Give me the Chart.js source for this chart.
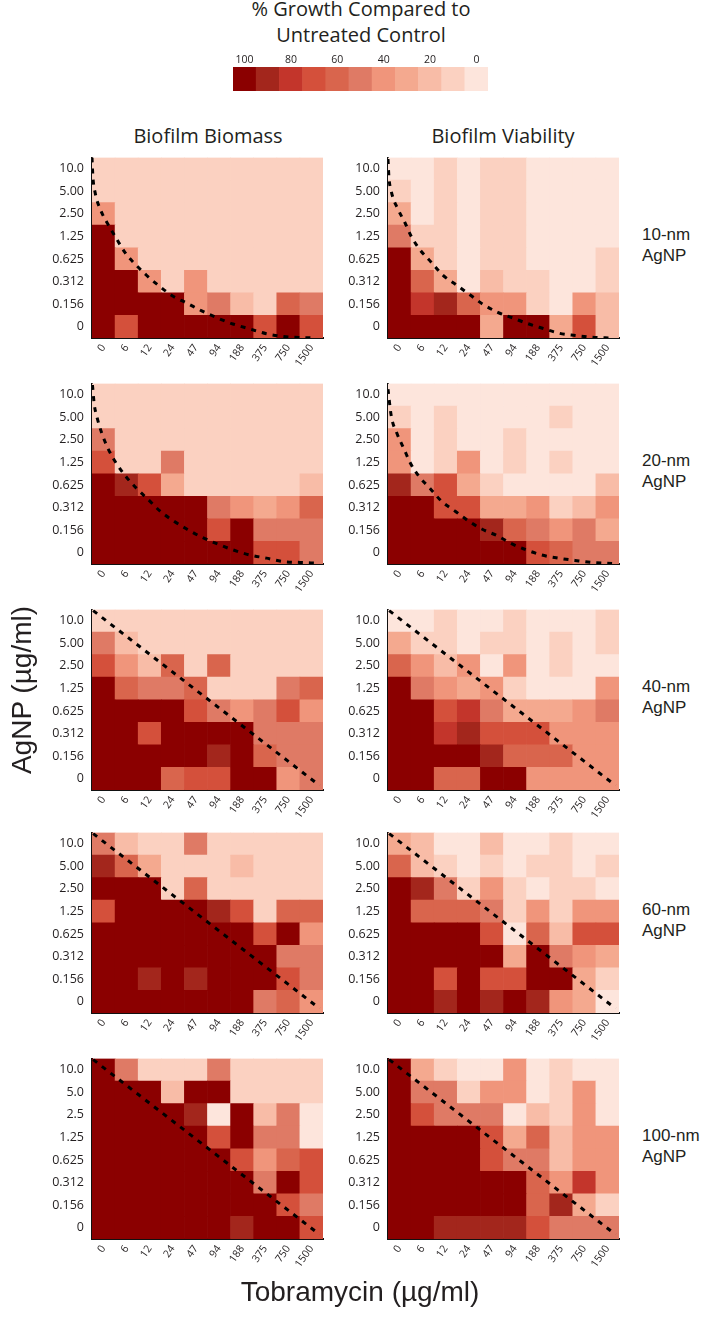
<!DOCTYPE html>
<html>
<head>
<meta charset="utf-8">
<title>AgNP + Tobramycin checkerboards</title>
<script src="https://cdn.jsdelivr.net/npm/chart.js@4.4.1/dist/chart.umd.min.js"></script>
<style>
    body {
        margin: 0;
        width: 716px;
        height: 1319px;
        position: relative;
        overflow: hidden;
        background: #fff;
        color: #231f20;
        font-family: 'Open Sans', sans-serif;
    }
    canvas { position: absolute; }
    .txt { position: absolute; white-space: nowrap; }
    .title { left: 0; width: 722px; top: -4px; text-align: center; font-size: 20px; line-height: 26px; }
    .head { font-size: 20px; transform: translateX(-50%); top: 122px; }
    .row-label { left: 642px; font-family: 'Liberation Sans', sans-serif; font-size: 17px; line-height: 21px; transform: translateY(-50%); }
    .axis-title { font-family: 'Liberation Sans', sans-serif; font-size: 28px; }
</style>
</head>
<body>

<div class="txt title">% Growth Compared to<br>Untreated Control</div>
<canvas id="key" width="255" height="43" style="left:233px; top:48px;"></canvas>

<div class="txt head" style="left:208px;">Biofilm Biomass</div>
<div class="txt head" style="left:503px;">Biofilm Viability</div>

<canvas id="b10" width="300" height="241" style="left:40px; top:142px;"></canvas>
<canvas id="v10" width="300" height="241" style="left:336px; top:142px;"></canvas>
<canvas id="b20" width="300" height="241" style="left:40px; top:368px;"></canvas>
<canvas id="v20" width="300" height="241" style="left:336px; top:368px;"></canvas>
<canvas id="b40" width="300" height="241" style="left:40px; top:594px;"></canvas>
<canvas id="v40" width="300" height="241" style="left:336px; top:594px;"></canvas>
<canvas id="b60" width="300" height="241" style="left:40px; top:817px;"></canvas>
<canvas id="v60" width="300" height="241" style="left:336px; top:817px;"></canvas>
<canvas id="b100" width="300" height="241" style="left:40px; top:1043px;"></canvas>
<canvas id="v100" width="300" height="241" style="left:336px; top:1043px;"></canvas>

<div class="txt row-label" style="top:245px;">10-nm<br>AgNP</div>
<div class="txt row-label" style="top:471px;">20-nm<br>AgNP</div>
<div class="txt row-label" style="top:697px;">40-nm<br>AgNP</div>
<div class="txt row-label" style="top:920px;">60-nm<br>AgNP</div>
<div class="txt row-label" style="top:1146px;">100-nm<br>AgNP</div>

<div class="txt axis-title" style="left:22px; top:690px; transform:translate(-50%,-50%) rotate(-90deg);">AgNP (µg/ml)</div>
<div class="txt axis-title" style="left:360px; top:1292px; transform:translate(-50%,-50%);">Tobramycin (µg/ml)</div>

<script>
// Colour key: % growth compared to untreated control, dark to light
const keyValues = [100, 90, 80, 70, 60, 50, 40, 30, 20, 10, 0];
const keyColors = ['#8b0000', '#a3261c', '#c3352b', '#d4503b', '#d9654d', '#df7a65',
                   '#f0957b', '#f4a98f', '#f8bca7', '#fbd1c1', '#fde5dc'];
const keyLabels = ['100', '', '80', '', '60', '', '40', '', '20', '', '0'];

// Tick labels
const tobraLabels = ['0', '6', '12', '24', '47', '94', '188', '375', '750', '1500'];
const agnpLabels = ['10.0', '5.00', '2.50', '1.25', '0.625', '0.312', '0.156', '0'];     // top to bottom
const agnpLabelsShort = ['10.0', '5.0', '2.5', '1.25', '0.625', '0.312', '0.156', '0'];

// % growth per cell, rows top (10.0) to bottom (0), columns tobramycin 0 .. 1500
const biomass10 = [
    [10, 10, 10, 10, 10, 10, 10, 10, 10, 10],
    [10, 10, 10, 10, 10, 10, 10, 10, 10, 10],
    [40, 10, 10, 10, 10, 10, 10, 10, 10, 10],
    [100, 10, 10, 10, 10, 10, 10, 10, 10, 10],
    [100, 40, 10, 10, 10, 10, 10, 10, 10, 10],
    [100, 100, 40, 10, 40, 10, 10, 10, 10, 10],
    [100, 100, 100, 100, 40, 50, 20, 10, 60, 50],
    [100, 70, 100, 100, 100, 100, 100, 70, 100, 70]
];
const viability10 = [
    [0, 0, 10, 0, 10, 10, 0, 0, 0, 0],
    [10, 0, 10, 0, 10, 10, 0, 0, 0, 0],
    [30, 0, 10, 0, 10, 10, 0, 0, 0, 0],
    [50, 10, 10, 0, 10, 10, 0, 0, 0, 0],
    [100, 30, 10, 0, 10, 10, 0, 0, 0, 10],
    [100, 60, 30, 0, 20, 10, 10, 0, 0, 10],
    [100, 80, 90, 60, 40, 40, 10, 0, 40, 20],
    [100, 100, 100, 100, 30, 100, 100, 30, 70, 20]
];
const biomass20 = [
    [10, 10, 10, 10, 10, 10, 10, 10, 10, 10],
    [10, 10, 10, 10, 10, 10, 10, 10, 10, 10],
    [50, 10, 10, 10, 10, 10, 10, 10, 10, 10],
    [70, 10, 10, 50, 10, 10, 10, 10, 10, 10],
    [100, 90, 70, 30, 10, 10, 10, 10, 10, 20],
    [100, 100, 100, 100, 100, 50, 40, 30, 40, 60],
    [100, 100, 100, 100, 100, 70, 100, 50, 50, 50],
    [100, 100, 100, 100, 100, 100, 100, 70, 70, 50]
];
const viability20 = [
    [0, 0, 0, 0, 0, 0, 0, 0, 0, 0],
    [10, 0, 10, 0, 0, 0, 0, 10, 0, 0],
    [40, 0, 10, 0, 0, 10, 0, 0, 0, 0],
    [40, 0, 10, 40, 0, 10, 0, 10, 0, 0],
    [90, 50, 70, 30, 10, 0, 0, 0, 0, 20],
    [100, 100, 70, 70, 30, 30, 40, 10, 20, 40],
    [100, 100, 100, 100, 90, 60, 50, 40, 50, 30],
    [100, 100, 100, 100, 100, 100, 70, 60, 50, 50]
];
const biomass40 = [
    [10, 10, 10, 10, 10, 10, 10, 10, 10, 10],
    [50, 20, 10, 10, 10, 10, 10, 10, 10, 10],
    [70, 40, 20, 60, 10, 60, 10, 10, 10, 10],
    [100, 60, 50, 50, 60, 10, 10, 10, 50, 60],
    [100, 100, 100, 100, 70, 50, 40, 50, 70, 40],
    [100, 100, 70, 100, 100, 100, 100, 50, 50, 50],
    [100, 100, 100, 100, 100, 90, 100, 60, 50, 50],
    [100, 100, 100, 60, 70, 70, 100, 100, 40, 50]
];
const viability40 = [
    [0, 0, 10, 0, 0, 10, 0, 0, 0, 10],
    [30, 10, 10, 0, 10, 10, 0, 10, 0, 10],
    [60, 40, 20, 40, 0, 40, 0, 10, 0, 0],
    [100, 50, 40, 30, 40, 10, 0, 0, 0, 40],
    [100, 100, 70, 80, 50, 30, 30, 30, 40, 50],
    [100, 100, 80, 90, 70, 70, 70, 40, 40, 40],
    [100, 100, 100, 100, 90, 60, 60, 60, 40, 40],
    [100, 100, 60, 60, 100, 100, 40, 40, 40, 40]
];
const biomass60 = [
    [50, 20, 10, 10, 50, 10, 10, 10, 10, 10],
    [90, 60, 30, 10, 10, 10, 20, 10, 10, 10],
    [100, 100, 100, 10, 60, 10, 10, 10, 10, 10],
    [70, 100, 100, 100, 100, 90, 70, 10, 60, 60],
    [100, 100, 100, 100, 100, 100, 100, 70, 100, 40],
    [100, 100, 100, 100, 100, 100, 100, 100, 50, 50],
    [100, 100, 90, 100, 90, 100, 100, 100, 70, 50],
    [100, 100, 100, 100, 100, 100, 100, 50, 60, 40]
];
const viability60 = [
    [30, 20, 0, 0, 20, 0, 0, 10, 0, 0],
    [60, 20, 10, 0, 10, 0, 10, 10, 0, 10],
    [100, 90, 50, 10, 40, 10, 0, 10, 10, 0],
    [100, 60, 60, 60, 50, 10, 40, 10, 40, 40],
    [100, 100, 100, 100, 70, 0, 60, 20, 70, 70],
    [100, 100, 100, 100, 100, 30, 100, 50, 40, 30],
    [100, 100, 70, 100, 70, 70, 100, 100, 30, 10],
    [100, 100, 90, 100, 90, 100, 90, 40, 30, 0]
];
const biomass100 = [
    [100, 50, 10, 10, 10, 50, 10, 10, 10, 10],
    [100, 100, 100, 20, 100, 100, 10, 10, 10, 10],
    [100, 100, 100, 100, 90, 0, 100, 20, 50, 0],
    [100, 100, 100, 100, 100, 70, 100, 50, 50, 0],
    [100, 100, 100, 100, 100, 100, 70, 40, 60, 70],
    [100, 100, 100, 100, 100, 100, 100, 50, 100, 70],
    [100, 100, 100, 100, 100, 100, 100, 100, 70, 50],
    [100, 100, 100, 100, 100, 100, 90, 100, 100, 70]
];
const viability100 = [
    [100, 30, 10, 0, 0, 40, 0, 10, 0, 0],
    [100, 50, 50, 10, 40, 40, 0, 10, 40, 0],
    [100, 70, 50, 50, 50, 0, 20, 10, 40, 0],
    [100, 100, 100, 100, 70, 30, 60, 20, 40, 40],
    [100, 100, 100, 100, 70, 50, 50, 20, 40, 40],
    [100, 100, 100, 100, 100, 100, 60, 40, 80, 40],
    [100, 100, 100, 100, 100, 100, 60, 90, 30, 10],
    [100, 100, 90, 90, 90, 90, 70, 50, 50, 50]
];

// Dashed reference lines, in cell units (x: column 0..10, y: row 0..8 from bottom)
const curve10bX = [0, 0.04, 0.14, 0.36, 0.72, 1.01, 1.44, 1.87, 2.37, 2.95, 3.53, 4.1, 4.75, 5.4, 6.1, 6.83, 7.55, 8.27, 9.0, 9.7];
const curve10bY = [8, 7.14, 6.42, 5.7, 4.99, 4.49, 3.77, 3.27, 2.77, 2.27, 1.84, 1.55, 1.2, 0.9, 0.62, 0.4, 0.19, 0.07, 0.02, 0];
const curve10vX = [0, 0.04, 0.14, 0.43, 0.72, 1.01, 1.37, 1.87, 2.37, 2.95, 3.53, 4.1, 4.75, 5.4, 6.04, 6.69, 7.41, 8.13, 8.85, 9.7];
const curve10vY = [7.93, 7.14, 6.5, 5.71, 5.14, 4.5, 3.93, 3.36, 2.79, 2.36, 1.93, 1.5, 1.14, 0.89, 0.64, 0.43, 0.21, 0.11, 0.03, 0];
const curve20bX = [0.02, 0.1, 0.22, 0.43, 0.72, 1.08, 1.44, 1.94, 2.45, 2.95, 3.53, 4.1, 4.75, 5.4, 6.12, 6.83, 7.55, 8.27, 9.0, 9.71];
const curve20bY = [7.93, 7.06, 6.49, 5.78, 5.06, 4.42, 3.91, 3.34, 2.84, 2.34, 1.91, 1.55, 1.19, 0.9, 0.62, 0.4, 0.26, 0.11, 0.07, 0.04];
const curve20vX = [0, 0.14, 0.39, 0.68, 0.96, 1.32, 1.83, 2.33, 2.91, 3.48, 4.06, 4.71, 5.35, 6.0, 6.65, 7.37, 8.09, 8.81, 9.7];
const curve20vY = [7.75, 6.57, 5.78, 5.13, 4.49, 3.91, 3.34, 2.77, 2.34, 1.91, 1.55, 1.26, 0.9, 0.62, 0.4, 0.26, 0.16, 0.07, 0.02];
const diagonalX = [0.05, 9.85];
const diagonalY = [7.95, 0.2];

const textColor = '#231f20';
const axisColor = '#111';

function colorFor(value) {
    const idx = keyValues.indexOf(value);
    return keyColors[idx >= 0 ? idx : keyColors.length - 1];
}

// Ticks sit in the middle of each cell
function cellCenters(count) {
    return Array.from({ length: count }, (_, i) => ({ value: i + 0.5 }));
}

// One checkerboard: floating bars for cells, dashed line on top
function makePanel(canvasId, grid, curveX, curveY, yLabels) {
    const cells = [];
    const colors = [];
    grid.forEach((row, r) => {
        row.forEach((value, c) => {
            cells.push({ x: c + 0.5, y: [7 - r, 8 - r] });
            colors.push(colorFor(value));
        });
    });
    const curve = curveX.map((x, i) => ({ x: x, y: curveY[i] }));

    return new Chart(document.getElementById(canvasId), {
        type: 'bar',
        data: {
            datasets: [
                {
                    type: 'line',
                    data: curve,
                    borderColor: '#000',
                    borderWidth: 3,
                    borderDash: [5, 6],
                    borderCapStyle: 'butt',
                    pointRadius: 0,
                    cubicInterpolationMode: 'monotone',
                    fill: false,
                    order: 0
                },
                {
                    type: 'bar',
                    data: cells,
                    backgroundColor: colors,
                    borderWidth: 0,
                    barPercentage: 1,
                    categoryPercentage: 1,
                    grouped: false,
                    order: 1
                }
            ]
        },
        options: {
            responsive: false,
            animation: false,
            layout: { padding: { top: 10, right: 17, bottom: 0, left: 0 } },
            plugins: {
                legend: { display: false },
                tooltip: { enabled: false }
            },
            scales: {
                x: {
                    type: 'linear',
                    min: 0,
                    max: 10,
                    offset: false,
                    grid: { display: false, drawTicks: false },
                    border: { display: true, color: axisColor, width: 2 },
                    afterBuildTicks: (scale) => { scale.ticks = cellCenters(10); },
                    afterFit: (scale) => { scale.height = 45; },
                    ticks: {
                        autoSkip: false,
                        minRotation: 55,
                        maxRotation: 55,
                        padding: 4,
                        color: textColor,
                        font: { family: 'Open Sans', size: 10.5 },
                        callback: (value, index) => tobraLabels[index]
                    }
                },
                y: {
                    type: 'linear',
                    min: 0,
                    max: 8,
                    grid: { display: false, drawTicks: false },
                    border: { display: true, color: axisColor, width: 2 },
                    afterBuildTicks: (scale) => { scale.ticks = cellCenters(8); },
                    afterFit: (scale) => { scale.width = 52; },
                    ticks: {
                        autoSkip: false,
                        padding: 8,
                        color: textColor,
                        font: { family: 'Open Sans', size: 12.5 },
                        callback: (value, index) => yLabels[7 - index]
                    }
                }
            }
        }
    });
}

// Colour key bar
function makeKey() {
    return new Chart(document.getElementById('key'), {
        type: 'bar',
        data: {
            labels: keyLabels,
            datasets: [{
                data: keyValues.map(() => 1),
                backgroundColor: keyColors,
                borderWidth: 0,
                barPercentage: 1,
                categoryPercentage: 1
            }]
        },
        options: {
            responsive: false,
            animation: false,
            layout: { padding: 0 },
            plugins: {
                legend: { display: false },
                tooltip: { enabled: false }
            },
            scales: {
                x: {
                    position: 'top',
                    grid: { display: false, drawTicks: false },
                    border: { display: false },
                    afterFit: (scale) => { scale.height = 19; },
                    ticks: {
                        autoSkip: false,
                        maxRotation: 0,
                        padding: 1,
                        color: textColor,
                        font: { family: 'Open Sans', size: 10.5 }
                    }
                },
                y: { display: false, min: 0, max: 1 }
            }
        }
    });
}

try {
    makeKey();
    makePanel('b10', biomass10, curve10bX, curve10bY, agnpLabels);
    makePanel('v10', viability10, curve10vX, curve10vY, agnpLabels);
    makePanel('b20', biomass20, curve20bX, curve20bY, agnpLabels);
    makePanel('v20', viability20, curve20vX, curve20vY, agnpLabels);
    makePanel('b40', biomass40, diagonalX, diagonalY, agnpLabels);
    makePanel('v40', viability40, diagonalX, diagonalY, agnpLabels);
    makePanel('b60', biomass60, diagonalX, diagonalY, agnpLabels);
    makePanel('v60', viability60, diagonalX, diagonalY, agnpLabels);
    makePanel('b100', biomass100, diagonalX, diagonalY, agnpLabelsShort);
    makePanel('v100', viability100, diagonalX, diagonalY, agnpLabels);
} catch (error) {
    console.error('Error drawing checkerboards:', error);
}
</script>
</body>
</html>
